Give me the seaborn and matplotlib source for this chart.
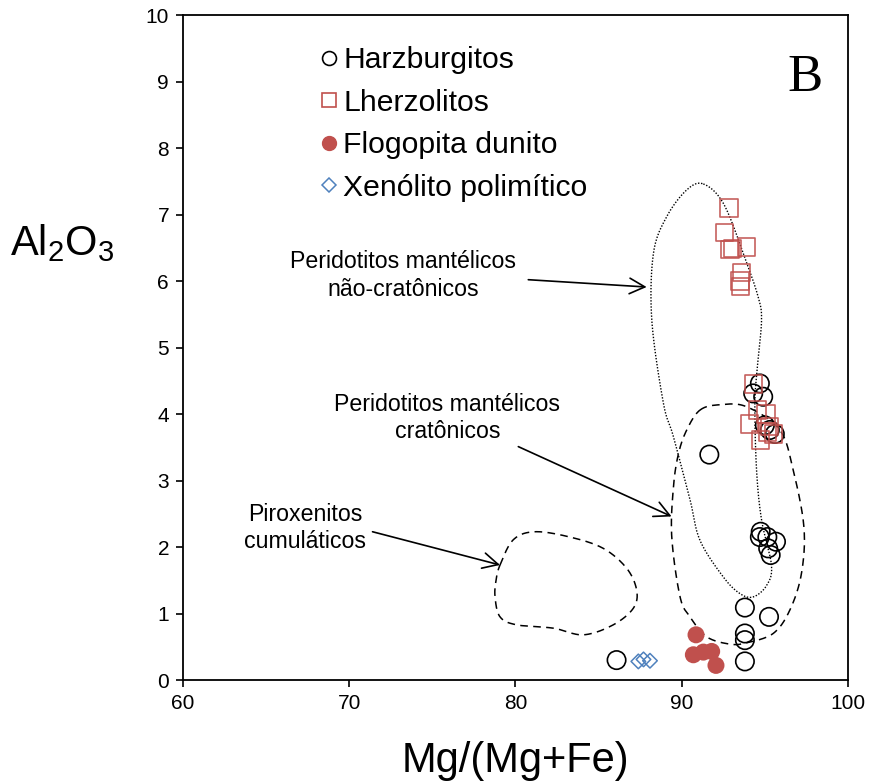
import numpy as np
import pandas as pd
import matplotlib
matplotlib.use("Agg")
import matplotlib.pyplot as plt
from matplotlib.lines import Line2D
import seaborn as sns

# Dados
harz_x = [86.08, 91.66, 93.8, 93.8, 93.8, 93.8, 95.25, 94.75, 94.7, 95.15,
          95.67, 95.2, 95.35, 94.7, 94.3, 94.9, 95.0, 95.3, 95.6]
harz_y = [0.30, 3.39, 1.09, 0.70, 0.60, 0.28, 0.95, 2.23, 2.15, 2.15,
          2.08, 1.98, 1.88, 4.46, 4.31, 4.26, 3.83, 3.76, 3.70]

lherz_x = [92.85, 92.58, 92.9, 93.05, 93.9, 93.58, 93.54, 93.5,
           94.3, 94.57, 95.07, 94.06, 95.3, 95.5, 94.75, 95.15]
lherz_y = [7.10, 6.73, 6.47, 6.49, 6.51, 6.13, 5.92, 6.0,
           4.45, 4.06, 4.0, 3.85, 3.81, 3.70, 3.61, 3.73]

flog_x = [90.86, 90.7, 91.3, 91.8, 92.06]
flog_y = [0.68, 0.38, 0.42, 0.43, 0.22]

xeno_x = [87.39, 87.7, 88.09]
xeno_y = [0.28, 0.31, 0.29]

# Campos (contornos)
nao_crat_x = [91.3, 92.5, 93.7, 94.6, 94.8, 94.57, 94.4, 94.5, 94.8, 95.4, 95.1, 94.3,
              93.5, 92.5, 91.1, 90.5, 89.5, 88.9, 88.2, 88.3, 89.1, 90.3]
nao_crat_y = [7.46, 7.17, 6.42, 5.76, 5.41, 4.76, 4.16, 3.16, 2.41, 1.72, 1.42, 1.25,
              1.30, 1.55, 2.10, 2.71, 3.66, 4.16, 5.41, 6.42, 6.97, 7.37]

crat_x = [91.1, 92.3, 93.9, 95.9, 96.7, 97.35, 97.2, 96.5, 95.5, 93.9, 92.9, 91.5,
          90.5, 89.9, 89.4, 89.5, 89.8, 90.3]
crat_y = [4.06, 4.14, 4.11, 3.76, 3.16, 2.3, 1.6, 1.05, 0.70, 0.56, 0.54, 0.65,
          0.95, 1.25, 2.15, 2.9, 3.4, 3.76]

pirox_x = [79.07, 79.87, 81.17, 83.28, 85.28, 86.69, 87.29, 87.09, 85.88, 84.08,
           82.27, 80.07, 79.07, 78.77, 78.83]
pirox_y = [1.73, 2.11, 2.23, 2.15, 1.98, 1.68, 1.35, 1.08, 0.83, 0.68,
           0.78, 0.83, 0.95, 1.25, 1.50]

VERMELHO = "#C0504D"
AZUL = "#4F81BD"

sns.set_theme(style="white")
plt.rcParams['font.family'] = ['Liberation Sans', 'DejaVu Sans']
plt.rcParams['mathtext.default'] = 'regular'
plt.rcParams['text.color'] = 'black'
plt.rcParams['axes.labelcolor'] = 'black'


def suavizar(xs, ys, n=24):
    """Curva fechada suave (Catmull-Rom periódica)."""
    P = np.column_stack([xs, ys])
    m = len(P)
    t = np.linspace(0, 1, n, endpoint=False)[:, None]
    partes = []
    for i in range(m):
        p0, p1, p2, p3 = P[i - 1], P[i], P[(i + 1) % m], P[(i + 2) % m]
        partes.append(0.5 * (2 * p1 + (-p0 + p2) * t + (2 * p0 - 5 * p1 + 4 * p2 - p3) * t ** 2
                             + (-p0 + 3 * p1 - 3 * p2 + p3) * t ** 3))
    partes.append(P[:1])
    return np.vstack(partes)


fig = plt.figure(figsize=(8.69, 7.83), dpi=100)
ax = fig.add_axes([0.2106, 0.1315, 0.7652, 0.8493])

# contornos
c = suavizar(nao_crat_x, nao_crat_y)
ax.plot(c[:, 0], c[:, 1], color='black', lw=1.0, linestyle=(0, (1, 1.2)), zorder=1)
c = suavizar(crat_x, crat_y)
ax.plot(c[:, 0], c[:, 1], color='black', lw=1.1, linestyle=(0, (5, 3.5)), zorder=1)
c = suavizar(pirox_x, pirox_y)
ax.plot(c[:, 0], c[:, 1], color='black', lw=1.1, linestyle=(0, (5, 3.5)), zorder=1)

# pontos
sns.scatterplot(x=harz_x, y=harz_y, ax=ax, marker='o', s=175, color='black',
                facecolor='none', edgecolor='black', linewidth=1.2, zorder=3)
sns.scatterplot(x=lherz_x, y=lherz_y, ax=ax, marker='s', s=155, color=VERMELHO,
                facecolor='none', edgecolor=VERMELHO, linewidth=1.2, alpha=0.9, zorder=3)
sns.scatterplot(x=flog_x, y=flog_y, ax=ax, marker='o', s=150, color=VERMELHO,
                edgecolor='none', zorder=3)
sns.scatterplot(x=xeno_x, y=xeno_y, ax=ax, marker='D', s=55, color=AZUL,
                facecolor='none', edgecolor=AZUL, linewidth=1.1, zorder=3)

# anotações
seta = dict(arrowstyle='->,head_length=0.55,head_width=0.28', lw=1.2, color='black',
            mutation_scale=20, shrinkA=0, shrinkB=0)
ax.annotate('', xy=(87.89, 5.91), xytext=(80.77, 6.02), arrowprops=seta)
ax.annotate('', xy=(89.39, 2.46), xytext=(80.17, 3.51), arrowprops=seta)
ax.annotate('', xy=(79.07, 1.73), xytext=(71.4, 2.23), arrowprops=seta)

ax.text(73.25, 6.08, 'Peridotitos mantélicos\nnão-cratônicos', ha='center', va='center',
        fontsize=16.7, linespacing=1.25)
ax.text(75.9, 3.94, 'Peridotitos mantélicos\ncratônicos', ha='center', va='center',
        fontsize=16.7, linespacing=1.25)
ax.text(67.34, 2.29, 'Piroxenitos\ncumuláticos', ha='center', va='center',
        fontsize=16.7, linespacing=1.25)
ax.text(0.962, 0.905, 'B', transform=ax.transAxes, ha='right', va='center',
        fontsize=38, family='Liberation Serif')

ax.set_xlim(60, 100)
ax.set_ylim(0, 10)
ax.set_xticks(range(60, 101, 10))
ax.set_yticks(range(0, 11, 1))
ax.tick_params(axis='both', direction='out', length=5, width=1.2, labelsize=15,
               color='black', labelcolor='black', bottom=True, left=True, pad=5)
for sp in ax.spines.values():
    sp.set_color('black')
    sp.set_linewidth(1.3)
ax.grid(False)
ax.set_xlabel('Mg/(Mg+Fe)', fontsize=30, labelpad=20)
ax.set_ylabel('')
fig.text(0.012, 0.69, 'Al$_{2}$O$_{3}$', fontsize=30, ha='left', va='center')

# legenda
handles = [
    Line2D([], [], ls='none', marker='o', ms=10, mfc='none', mec='black', mew=1.2),
    Line2D([], [], ls='none', marker='s', ms=9.5, mfc='none', mec=VERMELHO, mew=1.2),
    Line2D([], [], ls='none', marker='o', ms=10, mfc=VERMELHO, mec=VERMELHO),
    Line2D([], [], ls='none', marker='D', ms=7, mfc='none', mec=AZUL, mew=1.1),
]
labels = ['Harzburgitos', 'Lherzolitos', 'Flogopita dunito', 'Xenólito polimítico']
ax.legend(handles, labels, loc='upper left', bbox_to_anchor=(0.205, 0.953), frameon=False,
          fontsize=21.7, handlelength=0.65, handletextpad=0.15, labelspacing=0.48,
          borderpad=0, borderaxespad=0)

fig.savefig('out.png', dpi=100)
